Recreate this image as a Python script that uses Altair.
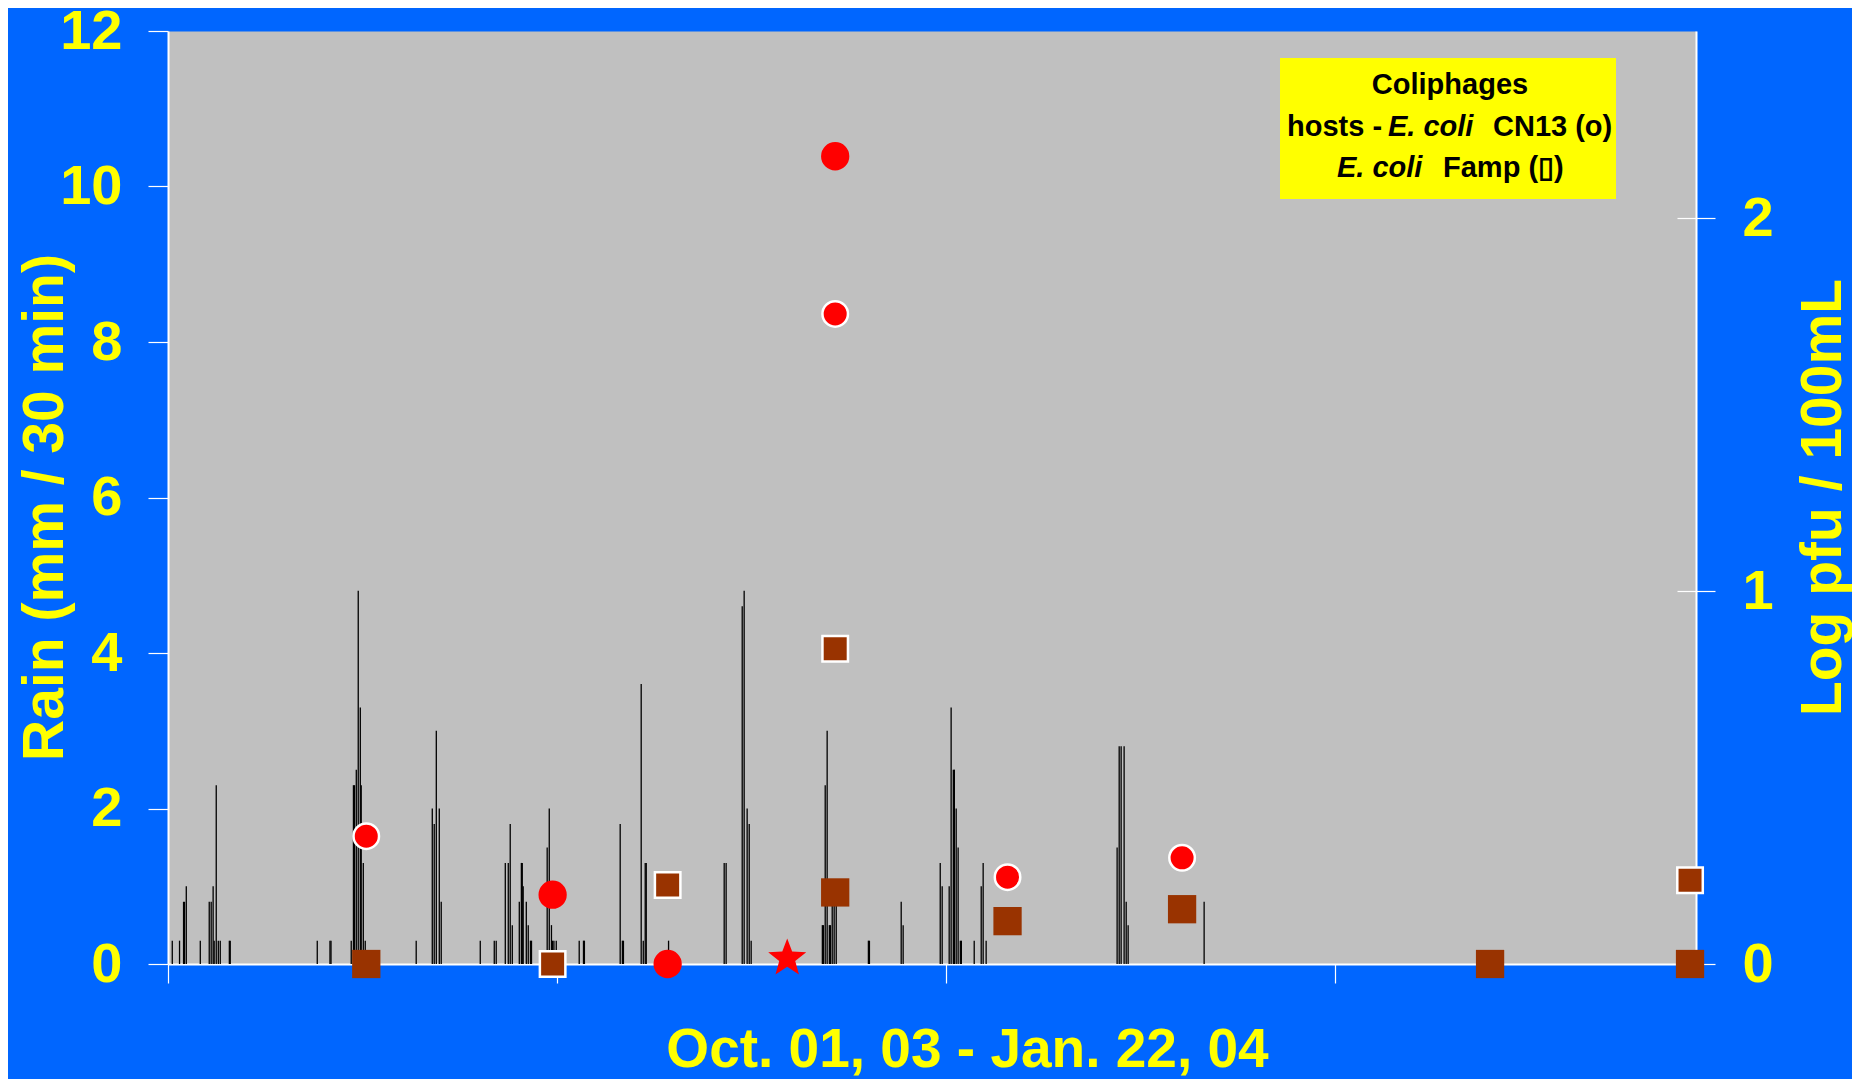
import altair as alt
import pandas as pd

# ---- Rain, mm per 30 min (day offset from Oct 01 2003) ----
rain_day = [0.33, 0.89, 1.20, 1.27, 1.41, 2.49, 3.18, 3.33, 3.48, 3.56, 3.72, 3.88, 4.03, 4.73, 4.80,
            11.51, 12.49, 12.57, 14.13, 14.30, 14.38, 14.52, 14.67, 14.83, 14.90, 15.06, 15.21,
            19.14, 20.38, 20.53, 20.69, 20.92, 21.07, 24.08, 25.16, 25.31, 26.01, 26.24, 26.39, 26.55,
            27.09, 27.25, 27.32, 27.39, 27.63, 27.78, 27.95, 28.03, 29.24, 29.40, 29.57, 29.65, 29.76, 29.94,
            31.71, 32.04, 32.11, 34.87, 35.04, 35.12, 36.49, 36.65, 36.80, 36.88, 38.60, 42.89, 43.04,
            44.28, 44.43, 44.66, 44.82, 44.97, 50.46, 50.54, 50.68, 50.83, 51.00, 51.08, 51.22, 51.37, 51.53,
            54.01, 54.09, 56.54, 56.69, 59.55, 59.70, 60.24, 60.39, 60.56, 60.64, 60.78, 60.93, 61.10, 61.18,
            62.17, 62.71, 62.86, 63.09, 73.19, 73.35, 73.50, 73.73, 73.89, 74.04, 79.90]
rain_mm = [0.3, 0.3, 0.8, 0.8, 1.0, 0.3, 0.8, 0.8, 1.0, 0.3, 2.3, 0.3, 0.3, 0.3, 0.3,
           0.3, 0.3, 0.3, 0.3, 2.3, 2.3, 2.5, 4.8, 3.3, 2.3, 1.3, 0.3,
           0.3, 2.0, 1.8, 3.0, 2.0, 0.8, 0.3, 0.3, 0.3, 1.3, 1.3, 1.8, 0.5,
           0.8, 1.3, 1.3, 1.0, 0.8, 0.5, 0.3, 0.3, 1.5, 2.0, 0.5, 0.3, 0.3, 0.3,
           0.3, 0.3, 0.3, 1.8, 0.3, 0.3, 3.6, 0.3, 1.3, 1.3, 0.3, 1.3, 1.3,
           4.6, 4.8, 2.0, 1.8, 0.3, 0.5, 0.5, 2.3, 3.0, 0.5, 0.5, 0.8, 0.8, 0.8,
           0.3, 0.3, 0.8, 0.5, 1.3, 1.0, 1.0, 3.3, 2.5, 2.5, 2.0, 1.5, 0.3, 0.3,
           0.3, 1.0, 1.3, 0.3, 1.5, 2.8, 2.8, 2.8, 0.8, 0.5, 0.8]

# ---- Coliphages, log pfu / 100 mL ----
cn13_day = [15.29, 29.66, 38.53, 51.45, 51.45, 64.74, 78.20]
cn13_log = [0.343, 0.186, 0.0, 2.167, 1.744, 0.233, 0.285]
cn13_ring = [1, 0, 0, 0, 1, 1, 1]

famp_day = [15.29, 29.66, 38.53, 51.45, 51.45, 64.74, 78.20, 101.95, 117.37, 117.37]
famp_log = [0.0, 0.0, 0.212, 0.846, 0.192, 0.115, 0.147, 0.0, 0.225, 0.0]
famp_ring = [0, 1, 1, 1, 0, 0, 0, 0, 1, 0]

star_day = [47.75]
star_log = [0.015]

x_ticks = [0, 30, 60, 90]
rain_ticks = [0, 2, 4, 6, 8, 10, 12]
log_ticks = [0, 1, 2]

YELLOW = "#FFFF00"
FONT = "Liberation Sans"

rain_df = pd.DataFrame({"day": rain_day, "mm": rain_mm})
cn13_df = pd.DataFrame({"day": cn13_day, "log": cn13_log, "ring": cn13_ring})
famp_df = pd.DataFrame({"day": famp_day, "log": famp_log, "ring": famp_ring})
star_df = pd.DataFrame({"day": star_day, "log": star_log})

X = alt.X("day:Q",
          scale=alt.Scale(domain=[0, 117.83], nice=False, zero=False),
          axis=alt.Axis(values=x_ticks, labels=False, grid=False,
                        domainColor="white", domainWidth=2,
                        tickColor="white", tickSize=19, tickWidth=1.2,
                        title="Oct. 01, 03 - Jan. 22, 04", titleColor=YELLOW,
                        titleFont=FONT, titleFontSize=55, titleFontWeight="bold",
                        titleX=799, titleY=102, titleAlign="center",
                        titleBaseline="alphabetic"))

left_axis = alt.Axis(orient="left", values=rain_ticks, format="d", grid=False,
                     domainColor="white", domainWidth=2,
                     tickColor="white", tickSize=20, tickWidth=1.2,
                     labelColor=YELLOW, labelFont=FONT, labelFontSize=56,
                     labelFontWeight="bold", labelPadding=26,
                     labelFlush=False, labelOverlap=False,
                     title="Rain (mm / 30 min)", titleColor=YELLOW, titleFont=FONT,
                     titleFontSize=57, titleFontWeight="bold", titleAngle=270,
                     titleX=-106, titleY=476, titleAlign="center",
                     titleBaseline="alphabetic")

right_axis = alt.Axis(orient="right", values=log_ticks, format="d",
                      grid=True, gridColor="white", gridWidth=1.2, gridDash=[19, 4000],
                      domainColor="white", domainWidth=2,
                      tickColor="white", tickSize=19, tickWidth=1.2,
                      labelColor=YELLOW, labelFont=FONT, labelFontSize=56,
                      labelFontWeight="bold", labelPadding=27,
                      labelFlush=False, labelOverlap=False,
                      title="Log pfu / 100mL", titleColor=YELLOW, titleFont=FONT,
                      titleFontSize=57, titleFontWeight="bold", titleAngle=270,
                      titleX=144, titleY=466, titleAlign="center",
                      titleBaseline="alphabetic")

rain_scale = alt.Scale(domain=[0, 12], nice=False, zero=True)
log_scale = alt.Scale(domain=[0, 2.503], nice=False, zero=True)

rain = alt.Chart(rain_df).mark_rule(color="black", strokeWidth=1.3).encode(
    x=X,
    y=alt.Y("mm:Q", scale=rain_scale, axis=left_axis),
    y2=alt.datum(0),
)

YR = alt.Y("log:Q", scale=log_scale, axis=right_axis)

circles = alt.Chart(cn13_df).mark_point(
    shape="circle", filled=True, color="#FF0000", stroke="white", opacity=1
).encode(
    x=X, y=YR,
    size=alt.Size("ring:N", scale=alt.Scale(domain=[0, 1], range=[800, 650]), legend=None),
    strokeWidth=alt.StrokeWidth("ring:N", scale=alt.Scale(domain=[0, 1], range=[0, 2.5]), legend=None),
)

squares = alt.Chart(famp_df).mark_point(
    shape="square", filled=True, color="#993300", stroke="white", opacity=1
).encode(
    x=X, y=YR,
    size=alt.Size("ring:N", scale=alt.Scale(domain=[0, 1], range=[1024, 870]), legend=None),
    strokeWidth=alt.StrokeWidth("ring:N", scale=alt.Scale(domain=[0, 1], range=[0, 2.5]), legend=None),
)

STAR = ("M0,-1L0.2469,-0.3398L0.9511,-0.309L0.3995,0.1298L0.5878,0.809L0,0.42"
        "L-0.5878,0.809L-0.3995,0.1298L-0.9511,-0.309L-0.2469,-0.3398Z")
star = alt.Chart(star_df).mark_point(
    shape=STAR, filled=True, color="#FF0000", opacity=1, size=1600
).encode(x=X, y=YR)

markers = alt.layer(circles, squares, star)

one = pd.DataFrame({"a": [0]})
box = alt.Chart(one).mark_rect(color=YELLOW).encode(
    x=alt.value(1112), x2=alt.value(1448), y=alt.value(27), y2=alt.value(168)
)


def txt(s, x, y, italic=False, align="left"):
    return alt.Chart(one).mark_text(
        text=s, font=FONT, fontSize=29, fontWeight="bold",
        fontStyle="italic" if italic else "normal",
        color="black", align=align, baseline="alphabetic"
    ).encode(x=alt.value(x), y=alt.value(y))


legend = [
    box,
    txt("Coliphages", 1282, 63, align="center"),
    txt("hosts -", 1119, 105),
    txt("E. coli", 1220, 105, italic=True),
    txt("CN13 (o)", 1325, 105),
    txt("E. coli", 1169, 146, italic=True),
    txt("Famp (\u25AF)", 1275, 146),
]

chart = alt.layer(rain, markers, *legend).resolve_scale(y="independent").properties(
    width=1528, height=933,
    padding={"left": 160, "top": 23, "right": 156, "bottom": 115},
    autosize=alt.AutoSizeParams(type="none"),
).configure(background="#0066FF").configure_view(fill="#C0C0C0", stroke="transparent")

chart.save("out.html", embed_options={"renderer": "svg", "actions": False})
